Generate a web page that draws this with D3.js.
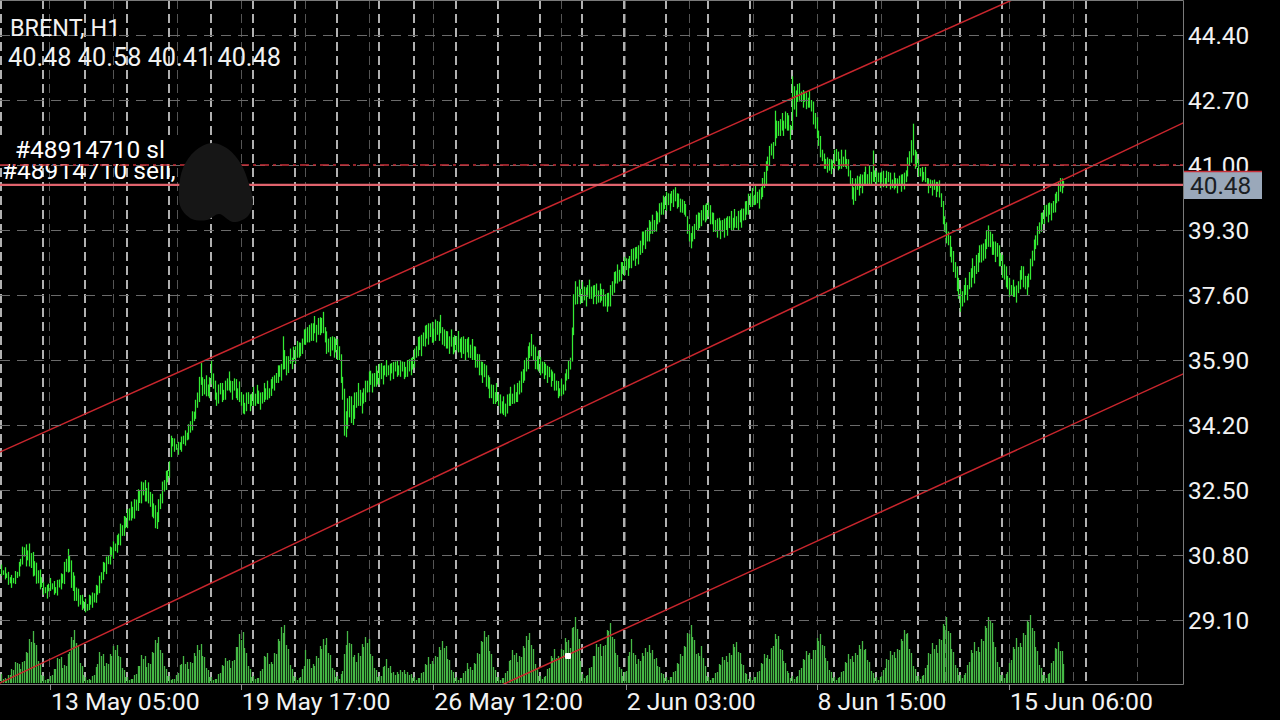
<!DOCTYPE html>
<html><head><meta charset="utf-8">
<script src="https://cdn.jsdelivr.net/npm/d3@7"></script>
<style>html,body{margin:0;padding:0;background:#000;overflow:hidden}svg{display:block}</style>
</head><body>
<svg id="c" width="1280" height="720"></svg>
<script>
// ---------- DATA ----------
const symbol = "BRENT, H1";
const lastOHLC = ["40.48", "40.58", "40.41", "40.48"];
const lastPrice = 40.48;
const slOrderPrice = 41.00;
const sellOrderPrice = 40.48;
const orderLabels = ["#48914710 sl", "#48914710 sell,"];
const priceTicks = [29.10, 30.80, 32.50, 34.20, 35.90, 37.60, 39.30, 41.00, 42.70, 44.40];
const timeLabels = ["13 May 05:00", "19 May 17:00", "26 May 12:00", "2 Jun 03:00", "8 Jun 15:00", "15 Jun 06:00"];
const timeLabelBars = [28, 137, 247, 357, 466, 576];
const daySeparatorBars = [0,24,48,72,96,120,144,168,192,216,236,260,284,308,332,356,380,404,428,452,476,500,524,548,572,596,620];

// hourly bar highs (one row per trading day)
const highs = [
30.55,30.40,30.48,30.32,30.36,30.22,30.28,30.20,30.38,30.36,30.62,30.70,31.02,31.00,31.08,30.92,31.10,30.85,30.88,30.64,30.60,30.40,30.42,30.22,
30.10,29.96,30.02,30.05,30.20,30.06,30.12,29.96,30.15,30.16,30.32,30.30,30.62,30.70,30.96,30.80,30.66,30.35,30.26,29.95,29.92,29.75,29.76,29.60,
29.66,29.52,29.76,29.74,29.82,29.80,30.02,30.00,30.26,30.35,30.62,30.60,30.76,30.80,31.02,31.00,31.16,31.10,31.32,31.36,31.62,31.58,31.82,31.80,
32.00,32.02,32.20,32.06,32.26,32.25,32.52,32.50,32.72,32.70,32.76,32.55,32.70,32.45,32.40,32.15,32.10,31.92,32.26,32.40,32.72,32.76,33.00,33.02,
33.25,33.92,33.86,33.85,33.70,33.76,33.75,33.90,33.92,34.06,34.00,34.22,34.30,34.56,34.55,34.86,35.05,35.46,35.82,35.45,35.40,35.50,35.26,35.45,
35.88,35.55,35.36,35.05,35.26,35.30,35.30,35.12,35.36,35.42,35.60,35.36,35.35,35.42,35.40,35.16,35.34,35.06,35.00,34.78,35.05,35.06,35.00,35.02,
35.20,35.02,35.25,35.10,35.05,35.06,35.30,35.16,35.36,35.16,35.40,35.46,35.50,35.56,35.76,35.76,35.80,36.52,36.16,36.00,36.00,36.20,35.96,36.25,
36.26,36.40,36.36,36.35,36.46,36.70,36.72,36.76,36.82,36.86,36.86,37.05,36.82,37.00,37.02,37.00,37.16,36.76,36.65,36.46,36.50,36.52,36.50,36.46,
36.45,36.26,36.05,35.46,35.15,34.56,34.90,34.96,34.95,34.72,35.05,35.06,35.30,35.12,35.05,35.16,35.36,35.36,35.60,35.62,35.55,35.56,35.75,35.62,
35.80,35.82,35.75,35.76,35.90,35.76,35.80,35.82,35.85,35.86,35.90,35.76,35.90,35.86,35.85,35.72,35.90,35.92,35.95,35.98,
36.20,36.26,36.50,36.52,36.56,36.62,36.80,36.82,36.86,36.86,36.90,36.72,36.96,36.92,36.90,37.08,36.76,36.70,36.66,36.65,36.52,36.70,36.50,36.55,
36.52,36.66,36.46,36.50,36.52,36.45,36.46,36.50,36.30,36.45,36.26,36.25,36.06,36.05,35.86,35.85,35.80,35.76,35.50,35.45,35.26,35.25,35.06,35.30,
35.00,35.00,34.82,34.95,34.76,35.00,35.02,35.20,35.02,35.26,35.06,35.30,35.36,35.60,35.66,35.90,35.96,36.26,36.36,36.58,36.30,36.25,36.00,36.15,
35.98,35.86,35.85,35.80,35.75,35.72,35.65,35.60,35.55,35.36,35.35,35.16,35.40,35.26,35.55,35.66,35.90,35.96,36.75,37.62,37.96,37.82,38.00,37.76,
37.95,37.82,37.80,37.86,38.00,37.82,37.85,37.86,37.90,37.72,37.90,37.76,37.75,37.62,37.65,37.66,37.86,37.96,38.20,38.22,38.40,38.26,38.46,38.46,
38.60,38.56,38.55,38.62,38.80,38.82,38.85,38.86,38.90,39.02,39.26,39.26,39.30,39.36,39.56,39.52,39.70,39.56,39.80,39.76,40.00,40.02,40.20,40.16,
40.30,40.26,40.25,40.32,40.36,40.42,40.26,40.25,40.12,40.10,40.06,39.98,39.66,39.45,39.22,39.40,39.46,39.70,39.76,39.75,39.82,39.95,39.96,40.00,
40.02,39.95,39.76,39.75,39.56,39.60,39.62,39.55,39.56,39.60,39.62,39.66,39.66,39.80,39.62,39.85,39.66,39.80,39.82,39.86,39.86,40.05,40.06,40.25,
40.26,40.40,40.22,40.45,40.30,40.36,40.42,40.66,40.82,41.10,41.22,41.50,41.56,41.60,42.42,42.16,42.15,42.20,42.36,42.16,42.40,42.36,42.30,42.05,
43.32,43.06,42.95,43.12,43.14,42.92,42.96,42.92,42.90,42.76,42.95,42.70,42.66,42.36,42.25,41.90,41.76,41.40,41.30,41.16,41.20,41.16,41.15,41.12,
41.40,41.42,41.35,41.16,41.40,41.22,41.40,41.16,41.15,40.86,40.66,40.42,40.65,40.72,40.70,40.76,40.75,40.82,40.96,40.76,41.00,40.82,41.38,40.86,
40.85,40.80,40.80,40.82,40.85,40.66,40.85,40.82,40.80,40.62,40.80,40.66,40.65,40.72,40.75,40.76,40.80,40.86,41.20,41.36,41.65,42.08,41.40,41.35,
41.15,40.92,40.95,40.82,40.95,40.66,40.65,40.62,40.60,40.62,40.56,40.56,40.60,40.26,40.06,39.66,39.50,39.26,39.15,38.86,38.75,38.46,38.35,38.05,
37.76,37.70,37.86,38.05,37.86,38.20,38.30,38.56,38.36,38.65,38.70,38.90,38.92,38.95,39.06,39.30,39.42,39.26,39.20,39.00,39.00,38.96,38.90,38.70,
38.65,38.40,38.35,38.10,38.05,37.86,38.00,37.82,37.85,37.96,38.25,38.36,38.35,38.10,38.10,38.16,38.55,38.76,39.05,39.16,39.40,39.50,39.75,39.76,
39.95,39.96,40.00,40.02,40.00,40.06,40.25,40.30,40.55,40.66,40.65,40.58
];
// hourly bar lows
const lows = [
30.25,30.28,30.16,30.20,30.02,30.06,29.94,30.06,30.04,30.20,30.24,30.50,30.55,30.76,30.50,30.66,30.50,30.46,30.24,30.26,30.05,30.06,29.90,29.96,
29.76,29.80,29.66,29.85,29.86,29.90,29.76,29.80,29.74,29.95,29.90,30.06,30.04,30.36,30.34,30.36,29.94,29.86,29.60,29.60,29.45,29.50,29.36,29.40,
29.30,29.34,29.36,29.50,29.42,29.56,29.55,29.76,29.80,30.06,30.15,30.36,30.30,30.56,30.55,30.76,30.70,30.90,30.86,31.06,31.05,31.30,31.30,31.50,
31.50,31.70,31.70,31.76,31.75,31.96,31.95,32.16,32.15,32.36,32.20,32.20,32.15,32.06,31.80,31.76,31.50,31.48,31.66,32.00,32.15,32.46,32.50,32.70,
32.82,33.36,33.64,33.50,33.55,33.42,33.55,33.50,33.70,33.66,33.80,33.82,34.00,34.06,34.30,34.36,34.65,34.80,35.25,34.96,35.00,34.95,34.95,34.90,
35.26,35.15,34.86,34.70,34.76,35.00,34.80,34.85,34.86,35.10,35.10,35.05,34.86,35.10,34.90,34.85,34.80,34.70,34.50,34.48,34.56,34.75,34.56,34.70,
34.70,34.70,34.76,34.75,34.60,34.76,34.80,34.86,34.86,34.90,34.96,35.15,35.10,35.30,35.30,35.46,35.36,35.65,35.66,35.50,35.56,35.80,35.66,35.85,
35.80,35.96,35.96,36.00,36.06,36.30,36.30,36.36,36.36,36.40,36.40,36.60,36.36,36.56,36.55,36.60,36.60,36.36,36.06,36.10,36.00,36.15,35.96,36.10,
35.90,35.90,35.30,34.86,33.92,33.88,34.10,34.40,34.25,34.20,34.36,34.65,34.70,34.70,34.50,34.76,34.80,35.05,35.06,35.25,35.05,35.20,35.20,35.26,
35.26,35.40,35.26,35.50,35.46,35.50,35.36,35.55,35.40,35.60,35.46,35.50,35.46,35.60,35.40,35.45,35.46,35.60,35.50,35.65,
35.70,35.96,36.00,36.16,36.00,36.26,36.25,36.46,36.30,36.50,36.35,36.36,36.40,36.56,36.40,36.60,36.30,36.26,36.20,36.20,36.06,36.25,36.05,36.10,
36.15,36.10,36.10,35.95,36.06,35.90,36.10,35.96,35.95,35.90,35.90,35.70,35.70,35.50,35.50,35.30,35.45,35.20,35.15,34.90,34.90,34.75,34.75,34.80,
34.70,34.50,34.50,34.46,34.42,34.50,34.70,34.70,34.75,34.76,34.80,34.80,35.00,35.05,35.30,35.36,35.60,35.66,35.95,36.00,35.90,35.66,35.65,35.60,
35.50,35.55,35.40,35.50,35.30,35.45,35.20,35.35,35.10,35.10,34.90,34.95,34.96,35.00,35.10,35.36,35.40,35.65,35.86,36.55,37.35,37.36,37.55,37.36,
37.40,37.46,37.30,37.55,37.50,37.50,37.36,37.55,37.36,37.40,37.40,37.45,37.30,37.30,37.16,37.30,37.30,37.60,37.66,37.90,37.90,37.95,37.96,38.15,
38.10,38.25,38.10,38.30,38.30,38.50,38.36,38.55,38.40,38.65,38.70,38.90,38.80,39.00,39.00,39.20,39.20,39.25,39.26,39.45,39.50,39.70,39.70,39.85,
39.80,39.95,39.80,40.00,39.90,40.05,39.86,39.90,39.76,39.75,39.70,39.65,39.20,39.00,38.82,39.00,39.06,39.30,39.30,39.35,39.40,39.55,39.50,39.55,
39.65,39.45,39.45,39.25,39.25,39.10,39.30,39.06,39.25,39.10,39.30,39.15,39.35,39.30,39.30,39.36,39.35,39.30,39.50,39.36,39.55,39.56,39.70,39.70,
39.90,39.90,39.95,39.96,40.00,39.86,40.10,40.16,40.40,40.50,40.85,41.00,41.25,41.16,41.50,41.70,41.76,41.76,41.90,41.76,41.95,41.90,41.90,41.66,
41.92,42.45,42.26,42.65,42.66,42.65,42.50,42.65,42.46,42.50,42.50,42.40,42.06,41.95,41.70,41.50,41.20,41.10,40.90,40.90,40.80,40.85,40.76,40.90,
40.90,41.10,40.86,40.90,40.90,40.95,40.95,40.90,40.70,40.50,40.10,39.96,40.06,40.35,40.20,40.40,40.26,40.50,40.46,40.45,40.50,40.50,40.56,40.55,
40.46,40.55,40.40,40.55,40.42,40.45,40.40,40.55,40.36,40.40,40.36,40.40,40.26,40.45,40.30,40.50,40.36,40.55,40.70,41.00,41.06,41.25,40.90,40.95,
40.70,40.70,40.56,40.60,40.55,40.45,40.26,40.40,40.20,40.35,40.16,40.30,40.15,39.90,39.45,39.25,38.95,38.90,38.60,38.45,38.20,38.05,37.70,37.50,
37.16,37.30,37.40,37.60,37.46,37.75,37.80,38.05,37.90,38.15,38.20,38.45,38.45,38.50,38.55,38.80,38.86,38.85,38.65,38.65,38.46,38.60,38.35,38.35,
38.05,38.00,37.80,37.75,37.55,37.60,37.55,37.55,37.40,37.65,37.75,38.00,37.80,37.75,37.60,37.80,38.00,38.35,38.50,38.80,38.90,39.20,39.25,39.45,
39.46,39.65,39.50,39.70,39.55,39.75,39.76,40.00,40.05,40.30,40.26,40.41
];
// hourly tick volume (hundreds)
const volumes = [
9,4,5,4,8,8,14,13,21,20,19,14,21,22,31,30,44,41,52,40,38,22,19,8,
7,3,4,4,7,8,14,14,25,24,26,15,18,17,29,31,46,43,53,40,37,20,17,8,
6,3,4,3,7,8,16,19,31,27,29,17,20,19,29,27,37,33,38,27,26,15,13,6,
6,3,4,4,8,9,17,17,28,24,27,16,20,19,31,30,43,40,46,33,30,17,14,7,
7,3,4,4,8,10,18,19,27,19,21,14,21,20,30,27,38,33,39,27,26,15,13,6,
6,3,4,4,9,10,18,17,25,22,23,15,22,23,36,36,49,43,51,35,30,17,14,6,
7,4,5,5,12,14,27,26,30,19,21,19,30,29,44,42,56,50,58,38,34,18,14,7,
6,3,5,6,14,17,33,24,24,15,19,17,27,25,37,34,44,38,45,30,28,15,13,6,
7,4,9,12,29,38,52,40,39,26,28,21,30,27,39,36,46,40,44,29,27,15,13,6,
7,7,16,17,24,15,17,10,11,8,11,9,13,11,13,9,11,8,9,5,
6,3,5,5,10,11,19,18,26,19,22,19,27,26,36,33,42,35,37,24,23,13,11,5,
6,3,5,5,10,12,20,14,16,13,20,19,30,29,42,41,52,46,48,32,29,16,13,6,
6,3,5,5,10,12,22,23,33,28,30,21,27,26,37,35,47,43,50,38,34,19,15,7,
7,4,6,7,14,15,27,25,34,25,27,24,34,33,45,41,43,35,55,56,66,54,44,22,
9,5,7,8,15,16,27,27,39,36,39,27,37,38,53,52,60,46,44,30,28,16,14,7,
11,12,27,31,44,30,28,19,24,22,30,27,35,31,38,30,33,24,25,17,16,10,9,5,
6,3,6,6,11,12,20,19,29,27,37,36,50,49,58,46,43,29,30,27,37,25,17,7,
6,3,5,5,10,11,19,18,26,23,27,21,30,28,39,36,41,31,30,19,18,10,9,4,
6,3,6,6,11,12,20,19,29,25,28,24,35,37,49,44,47,34,33,22,20,12,10,5,
7,4,6,7,13,15,24,23,32,28,30,24,33,33,45,42,49,38,37,25,22,13,11,5,
6,3,5,6,11,12,21,20,29,24,27,21,30,28,38,34,42,33,34,23,21,12,10,5,
6,3,6,7,13,15,24,23,32,28,31,25,34,33,44,42,53,49,50,34,30,17,14,7,
7,4,7,8,15,18,30,29,40,34,38,30,44,43,59,57,66,52,50,34,31,18,15,8,
8,5,8,10,18,21,33,30,41,32,36,31,44,42,57,55,66,62,60,41,36,21,16,8,
8,5,9,11,20,23,36,34,45,36,40,36,50,48,63,61,68,55,52,36,32,18,15,8,
8,5,9,10,20,22,35,34,41,32,32,19
];
// channel lines: two anchors each [bar index, price]
const channelUpper = [[-0.571, 33.494], [577.71, 45.315]];
const channelMiddle = [[-0.571, 27.452], [675.43, 42.098]];
const channelLower = [[287.43, 27.426], [675.43, 35.534]];
const selectedAnchor = [324, 28.158];

// ---------- LAYOUT ----------
const W = 1280, H = 720;
const PR = 1183, PB = 684; // plot right / bottom
const FONT = "Roboto, 'Noto Sans', sans-serif";

const x = d3.scaleLinear().domain([0, 607]).range([1, 1063.25]);
const y = d3.scaleLinear().domain([29.10, 44.40]).range([620, 35]);
const yv = d3.scaleLinear().domain([0, 70]).range([683, 613]);

const svg = d3.select("#c");
svg.append("rect").attr("width", W).attr("height", H).attr("fill", "#000");
svg.append("defs").append("clipPath").attr("id", "clip")
  .append("rect").attr("x", 0).attr("y", 0).attr("width", PR).attr("height", PB);
const g = svg.append("g").attr("clip-path", "url(#clip)");

// horizontal grid
svg.append("g").selectAll("line").data(priceTicks).join("line")
  .attr("x1", 0).attr("x2", PR + 5)
  .attr("y1", d => Math.round(y(d)) + 0.5).attr("y2", d => Math.round(y(d)) + 0.5)
  .attr("stroke", "#6b6b6b").attr("stroke-width", 1).attr("stroke-dasharray", "10,7");

// vertical grid (fixed pixel step like the terminal)
g.append("g").selectAll("line").data(d3.range(49, PR, 64)).join("line")
  .attr("x1", d => d + 0.5).attr("x2", d => d + 0.5).attr("y1", 0).attr("y2", PB)
  .attr("stroke", "#555").attr("stroke-width", 1).attr("stroke-dasharray", "9,5");

// day separators
g.append("g").selectAll("line").data(daySeparatorBars).join("line")
  .attr("x1", d => x(d)).attr("x2", d => x(d)).attr("y1", 0).attr("y2", PB)
  .attr("stroke", "#dcdcdc").attr("stroke-width", 1.6).attr("stroke-dasharray", "9,5");

// volumes
g.append("g").selectAll("rect").data(volumes).join("rect")
  .attr("x", (d, i) => Math.round(x(i)) - 0.15).attr("width", 1.3)
  .attr("y", d => yv(d)).attr("height", d => yv(0) - yv(d))
  .attr("fill", "#46b846");

// price bars
g.append("g").selectAll("line").data(highs).join("line")
  .attr("x1", (d, i) => Math.round(x(i)) + 0.5).attr("x2", (d, i) => Math.round(x(i)) + 0.5)
  .attr("y1", d => y(d)).attr("y2", (d, i) => y(lows[i]))
  .attr("stroke", "#34ea34").attr("stroke-width", 1.25);

// channel lines (extended, clipped)
function extLine(a) {
  const [p0, p1] = a;
  const k = (p1[1] - p0[1]) / (p1[0] - p0[0]);
  const b0 = -100, b1 = 800;
  return [[b0, p0[1] + k * (b0 - p0[0])], [b1, p0[1] + k * (b1 - p0[0])]];
}
g.append("g").selectAll("line").data([channelUpper, channelMiddle, channelLower].map(extLine)).join("line")
  .attr("x1", d => x(d[0][0])).attr("y1", d => y(d[0][1]))
  .attr("x2", d => x(d[1][0])).attr("y2", d => y(d[1][1]))
  .attr("stroke", "#c9262d").attr("stroke-width", 1.5);

// selected anchor handle
g.append("rect").attr("x", x(selectedAnchor[0]) - 3).attr("y", y(selectedAnchor[1]) - 3)
  .attr("width", 6).attr("height", 6).attr("rx", 1).attr("fill", "#fff");

// sell order text (partly hidden)
svg.append("text").attr("x", 2).attr("y", 179).text(orderLabels[1])
  .attr("fill", "#fff").attr("font-family", FONT).attr("font-size", 24.5);
svg.append("rect").attr("x", 0).attr("y", 139).attr("width", 178).attr("height", 25).attr("fill", "#000");
svg.append("text").attr("x", 15).attr("y", 158).text(orderLabels[0])
  .attr("fill", "#fff").attr("font-family", FONT).attr("font-size", 24.5);

// stop loss dash-dot line
svg.append("line").attr("x1", 0).attr("x2", PR).attr("y1", y(slOrderPrice)).attr("y2", y(slOrderPrice))
  .attr("stroke", "#c8303a").attr("stroke-width", 1.6).attr("stroke-dasharray", "9,4,3,4");
// sell order / bid line
svg.append("line").attr("x1", 0).attr("x2", PR).attr("y1", y(sellOrderPrice)).attr("y2", y(sellOrderPrice))
  .attr("stroke", "#e0636d").attr("stroke-width", 2.4);

// dark blob
const blobPts = [[212,143],[228,149],[241,164],[249,184],[253,203],[247,217],[233,222],[219,214],[207,220],[192,219],[181,208],[179,190],[183,168],[195,151]];
svg.append("path").attr("d", d3.line().curve(d3.curveCatmullRomClosed)(blobPts)).attr("fill", "#161616");

// header
svg.append("text").attr("x", 10).attr("y", 36).text(symbol)
  .attr("fill", "#f2f2f2").attr("font-family", FONT).attr("font-size", 23.4);
svg.append("text").attr("x", 8).attr("y", 66).text(lastOHLC.join(" "))
  .attr("fill", "#f2f2f2").attr("font-family", FONT).attr("font-size", 25.3);

// border
svg.append("path").attr("d", `M0,0.5H${PR + 0.5}V${PB + 0.5}H0`)
  .attr("fill", "none").attr("stroke", "#7a7a7a").attr("stroke-width", 1);

// price axis labels
svg.append("g").selectAll("text").data(priceTicks).join("text")
  .attr("x", 1188).attr("y", d => y(d) + 8.5).text(d => d.toFixed(2))
  .attr("fill", "#f2f2f2").attr("font-family", FONT).attr("font-size", 24.4);

// current price box
svg.append("rect").attr("x", 1184).attr("y", 171).attr("width", 78).attr("height", 28).attr("fill", "#9aa8ba");
svg.append("line").attr("x1", 1184).attr("x2", 1262).attr("y1", 171.5).attr("y2", 171.5)
  .attr("stroke", "#c8303a").attr("stroke-width", 1.6);
svg.append("text").attr("x", 1190).attr("y", y(lastPrice) + 9).text(lastPrice.toFixed(2))
  .attr("fill", "#1b1e24").attr("font-family", FONT).attr("font-size", 24.4);

// time axis
svg.append("g").selectAll("line").data(timeLabelBars).join("line")
  .attr("x1", d => Math.round(x(d)) + 0.5).attr("x2", d => Math.round(x(d)) + 0.5).attr("y1", PB).attr("y2", PB + 6)
  .attr("stroke", "#8a8a8a");
svg.append("g").selectAll("text").data(timeLabels).join("text")
  .attr("x", (d, i) => x(timeLabelBars[i]) + 1).attr("y", 710).text(d => d)
  .attr("fill", "#f2f2f2").attr("font-family", FONT).attr("font-size", 24.8);
</script>
</body></html>
